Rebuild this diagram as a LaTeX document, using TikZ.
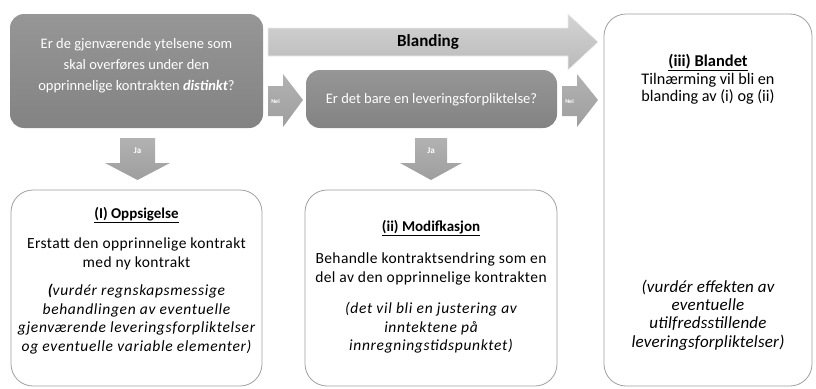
\documentclass[tikz,border=0pt]{standalone}
\usepackage{fontspec}
\setmainfont{Carlito}
\newfontfamily\bodyfont[LetterSpace=2.7]{Carlito}
\newfontfamily\itfont[LetterSpace=4.4]{Carlito}
\newfontfamily\itfontb[LetterSpace=1.2]{Carlito}
\definecolor{boxgraytop}{HTML}{969696}
\definecolor{boxgraybot}{HTML}{838383}
\definecolor{arrtop}{HTML}{B2B2B2}
\definecolor{arrbot}{HTML}{9E9E9E}
\definecolor{blendtop}{HTML}{D4D4D4}
\definecolor{blendbot}{HTML}{B9B9B9}
\definecolor{edgegray}{HTML}{A0A0A0}
\begin{document}
\begin{tikzpicture}[x=1pt,y=-1pt,
  graybox/.style={rectangle, rounded corners=14pt, top color=boxgraytop, bottom color=boxgraybot, draw=none, inner sep=0pt},
  whitebox/.style={rectangle, rounded corners=22pt, fill=white, draw=edgegray, line width=0.8pt, inner sep=0pt},
  blockarrow/.style={top color=arrtop, bottom color=arrbot, draw=none},
  wtxt/.style={text=white, align=center, inner sep=0pt, font=\fontsize{14.5}{21}\selectfont},
  btxt/.style={text=black, align=center, inner sep=0pt, font=\bodyfont\fontsize{15.5}{18.6}\selectfont},
  ititxt/.style={text=black, align=center, inner sep=0pt, font=\itfont\itshape\fontsize{15.5}{18.6}\selectfont},
  ttltxt/.style={text=black, align=center, inner sep=0pt, font=\bfseries\fontsize{15}{18}\selectfont},
  ctxt/.style={text=black, align=center, inner sep=0pt, font=\fontsize{16.2}{16.5}\selectfont},
  citxt/.style={text=black, align=center, inner sep=0pt, font=\itfontb\itshape\fontsize{17}{18.4}\selectfont},
  lbl/.style={text=white, inner sep=0pt, font=\bfseries\fontsize{6}{7}\selectfont},
  jalbl/.style={text=white, inner sep=0pt, font=\bfseries\fontsize{9}{11}\selectfont}
]
\useasboundingbox (0,0) rectangle (816,388);

% boxes
\node[graybox, minimum width=253pt, minimum height=114pt] (q1) at (136.5,71) {};
\node[graybox, minimum width=251pt, minimum height=58pt] (q2) at (431.5,99) {};
\node[whitebox, minimum width=251pt, minimum height=196pt] (r1) at (136.5,288) {};
\node[whitebox, minimum width=252pt, minimum height=196pt] (r2) at (431,288) {};
\node[whitebox, minimum width=208pt, minimum height=372pt] (r3) at (708,200) {};

% Blanding arrow
\path[top color=blendtop, bottom color=blendbot, draw=white!85!gray, line width=0.6pt]
  (268,28) -- (568,28) -- (568,14) -- (598,42) -- (568,70) -- (568,56) -- (268,56) -- cycle;
\node[text=black, inner sep=0pt, font=\bfseries\fontsize{17}{20}\selectfont] (blend) at (428,42) {Blanding};

% Nei arrows
\path[blockarrow] (268,86) -- (283,86) -- (283,74) -- (303,100) -- (283,127) -- (283,116) -- (268,116) -- cycle;
\node[lbl] (nei1) at (275.5,101) {Nei};
\path[blockarrow] (562,86) -- (577,86) -- (577,74) -- (598,100) -- (577,127) -- (577,116) -- (562,116) -- cycle;
\node[lbl] (nei2) at (569.5,101) {Nei};

% Ja arrows
\path[blockarrow] (120,138) -- (155,138) -- (155,163) -- (170,163) -- (137.5,180) -- (105,163) -- (120,163) -- cycle;
\node[jalbl] (ja1) at (137.5,151) {Ja};
\path[blockarrow] (415,138) -- (447,138) -- (447,163) -- (462,163) -- (431,180) -- (400,163) -- (415,163) -- cycle;
\node[jalbl] (ja2) at (431,151) {Ja};

% gray box texts
\node[wtxt] (q1t) at (136.5,66) {Er de gjenværende ytelsene som\\skal overføres under den\\opprinnelige kontrakten \textbf{\textit{distinkt}}?};
\node[wtxt] (q2t) at (431.5,100) {Er det bare en leveringsforpliktelse?};

% result I
\node[ttltxt] (r1a) at (136.5,215) {\underline{(I) Oppsigelse}};
\node[btxt] (r1b) at (136.5,254) {Erstatt den opprinnelige kontrakt\\med ny kontrakt};
\node[ititxt] (r1c) at (136.5,319) {\textbf{(}vurdér regnskapsmessige\\behandlingen av eventuelle\\gjenværende leveringsforpliktelser\\og eventuelle variable elementer)};

% result ii
\node[ttltxt] (r2a) at (431,228) {\underline{(ii) Modifkasjon}};
\node[btxt] (r2b) at (431,269) {Behandle kontraktsendring som en\\del av den opprinnelige kontrakten};
\node[ititxt] (r2c) at (431,328) {(det vil bli en justering av\\inntektene på\\innregningstidspunktet)};

% result iii
\node[ctxt, anchor=base, font=\bfseries\fontsize{16.5}{18}\selectfont] (r3a) at (708,66) {\underline{(iii) Blandet}};
\node[ctxt] (r3b) at (708,89) {Tilnærming vil bli en\\blanding av (i) og (ii)};
\node[citxt] (r3c) at (708,315) {(vurdér effekten av\\eventuelle\\utilfredsstillende\\leveringsforpliktelser)};
\end{tikzpicture}
\end{document}
